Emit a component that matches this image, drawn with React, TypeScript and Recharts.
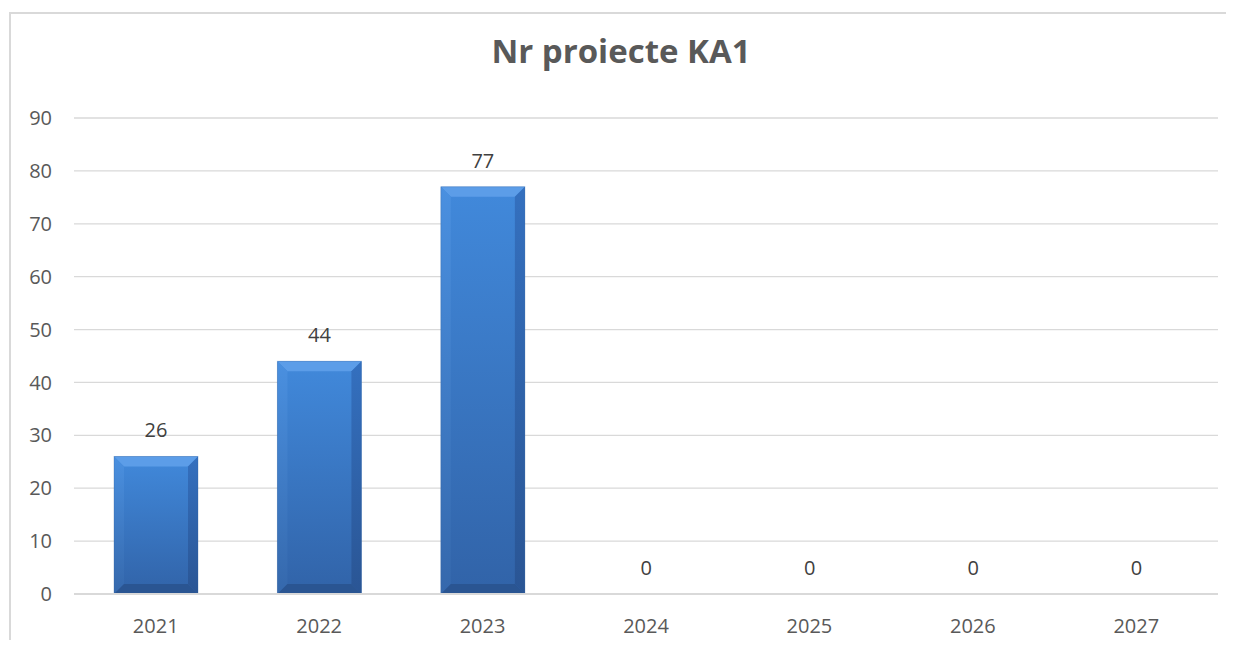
import { BarChart, Bar, XAxis, YAxis, CartesianGrid, LabelList } from 'recharts'

const years = ['2021', '2022', '2023', '2024', '2025', '2026', '2027']
const projects = [26, 44, 77, 0, 0, 0, 0]
const yTicks = [0, 10, 20, 30, 40, 50, 60, 70, 80, 90]

const data = years.map((year, i) => ({ year, value: projects[i] }))

const FONT = '"Open Sans", "Noto Sans", sans-serif'

// bevelled bar, like the office "angle" bevel
const BevelBar = (props: any) => {
  const { x, y, width, height } = props
  if (!height || height <= 0) return null
  const b = Math.min(10, height / 2, width / 2)
  const r = x + width
  const bt = y + height
  return (
    <g>
      <rect x={x} y={y} width={width} height={height} fill="url(#faceGrad)" />
      <polygon points={`${x},${y} ${r},${y} ${r - b},${y + b} ${x + b},${y + b}`} fill="#5c9de8" />
      <polygon points={`${x},${y} ${x + b},${y + b} ${x + b},${bt - b} ${x},${bt}`} fill="url(#leftGrad)" />
      <polygon points={`${r},${y} ${r},${bt} ${r - b},${bt - b} ${r - b},${y + b}`} fill="url(#rightGrad)" />
      <polygon points={`${x},${bt} ${x + b},${bt - b} ${r - b},${bt - b} ${r},${bt}`} fill="#2a5592" />
      <rect x={x} y={y} width={width} height={height} fill="none" stroke="#2d5d9c" strokeOpacity={0.3} />
    </g>
  )
}

export default function App() {
  return (
    <div
      style={{
        marginTop: 4,
        marginLeft: 1,
        width: 1225,
        height: 628,
        boxSizing: 'border-box',
        borderTop: '2px solid #d9d9d9',
        borderLeft: '2px solid #d9d9d9',
        position: 'relative',
        overflow: 'hidden',
        background: '#fff',
      }}
    >
      <div
        style={{
          position: 'absolute',
          left: 0,
          width: 1220,
          top: 20,
          lineHeight: 1,
          textAlign: 'center',
          fontFamily: FONT,
          fontWeight: 700,
          fontSize: 33,
          color: '#595959',
        }}
      >
        Nr proiecte KA1
      </div>
      <BarChart
        width={1223}
        height={624}
        data={data}
        margin={{ top: 104, right: 16, bottom: 4, left: 0 }}
        barSize={84}
      >
        <defs>
          <linearGradient id="faceGrad" x1="0" y1="0" x2="0" y2="1">
            <stop offset="0%" stopColor="#4189db" />
            <stop offset="100%" stopColor="#3163a8" />
          </linearGradient>
          <linearGradient id="leftGrad" x1="0" y1="0" x2="0" y2="1">
            <stop offset="0%" stopColor="#4a90e0" />
            <stop offset="100%" stopColor="#3568ac" />
          </linearGradient>
          <linearGradient id="rightGrad" x1="0" y1="0" x2="0" y2="1">
            <stop offset="0%" stopColor="#3470bf" />
            <stop offset="100%" stopColor="#2a5594" />
          </linearGradient>
        </defs>
        <CartesianGrid vertical={false} stroke="#d9d9d9" strokeWidth={1.3} />
        <XAxis
          dataKey="year"
          height={40}
          axisLine={{ stroke: '#d9d9d9', strokeWidth: 2 }}
          tickLine={false}
          tickSize={0}
          tickMargin={25}
          tick={{ fill: '#595959', fontSize: 20, fontFamily: FONT }}
        />
        <YAxis
          width={63}
          domain={[0, 90]}
          ticks={yTicks}
          interval={0}
          axisLine={false}
          tickLine={false}
          tickSize={0}
          tickMargin={22}
          tick={{ fill: '#595959', fontSize: 20, fontFamily: FONT }}
        />
        <Bar dataKey="value" shape={<BevelBar />} isAnimationActive={false}>
          <LabelList
            dataKey="value"
            position="top"
            offset={19}
            fill="#404040"
            fontSize={20}
            fontFamily={FONT}
          />
        </Bar>
      </BarChart>
    </div>
  )
}
